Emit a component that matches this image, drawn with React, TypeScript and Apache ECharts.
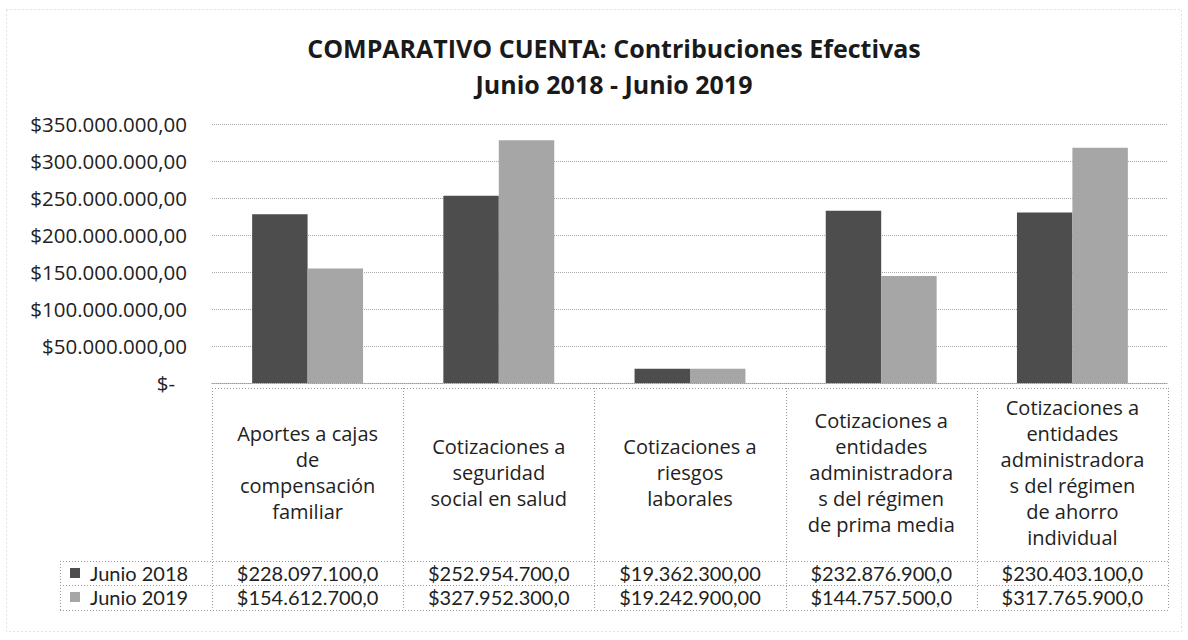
import React, { useEffect, useRef } from 'react';
import * as echarts from 'echarts';

const categories = [
  'Aportes a cajas\nde\ncompensación\nfamiliar',
  'Cotizaciones a\nseguridad\nsocial en salud',
  'Cotizaciones a\nriesgos\nlaborales',
  'Cotizaciones a\nentidades\nadministradora\ns del régimen\nde prima media',
  'Cotizaciones a\nentidades\nadministradora\ns del régimen\nde ahorro\nindividual',
];
const seriesNames = ['Junio 2018', 'Junio 2019'];
const junio2018 = [228097100, 252954700, 19362300, 232876900, 230403100];
const junio2019 = [154612700, 327952300, 19242900, 144757500, 317765900];
const yMax = 350000000;
const yInterval = 50000000;
const titleLines = ['COMPARATIVO CUENTA: Contribuciones Efectivas', 'Junio 2018 - Junio 2019'];

const FONT = "'Open Sans', 'Noto Sans', sans-serif";
const TABLE_FONT = "Lato, 'Open Sans', sans-serif";
const TEXT = '#222';

function groupThousands(n: number): string {
  return Math.floor(n).toString().replace(/\B(?=(\d{3})+(?!\d))/g, '.');
}
function fmtAxis(v: number): string {
  if (v === 0) return '{z|$-}';
  return '$' + groupThousands(v) + ',00';
}
function fmtCell(v: number): string {
  return '$' + groupThousands(v) + (v >= 1e8 ? ',0' : ',00');
}

// layout (pixels)
const GL = 212;
const GR = 1168;
const GT = 124;
const GB = 383;
const HEAD_TOP = 388;
const ROW1_TOP = 561;
const ROW2_TOP = 585;
const TABLE_BOTTOM = 610;
const LEG_LEFT = 60;

function buildGraphic() {
  const dot = { stroke: '#9a9a9a', lineWidth: 1, lineDash: [1, 2] };
  const els: any[] = [];
  const hl = (x1: number, x2: number, y: number) =>
    els.push({ type: 'line', silent: true, shape: { x1, y1: y + 0.5, x2, y2: y + 0.5 }, style: dot });
  const vl = (x: number, y1: number, y2: number) =>
    els.push({ type: 'line', silent: true, shape: { x1: x + 0.5, y1, x2: x + 0.5, y2 }, style: dot });
  hl(GL, GR, HEAD_TOP);
  hl(LEG_LEFT, GR, ROW1_TOP);
  hl(LEG_LEFT, GR, ROW2_TOP);
  hl(LEG_LEFT, GR, TABLE_BOTTOM);
  const n = categories.length;
  for (let i = 0; i <= n; i++) {
    const x = Math.round(GL + (i * (GR - GL)) / n);
    vl(x, HEAD_TOP, TABLE_BOTTOM);
  }
  vl(LEG_LEFT, ROW1_TOP, TABLE_BOTTOM);
  els.push({
    type: 'rect',
    silent: true,
    shape: { x: 6.5, y: 9.5, width: 1175, height: 622 },
    style: { fill: 'none', stroke: '#c8c8c8', lineWidth: 1, lineDash: [1, 3] },
  });
  return els;
}

export default function App() {
  const ref = useRef<HTMLDivElement>(null);
  useEffect(() => {
    if (!ref.current) return;
    const chart = echarts.init(ref.current, null, { renderer: 'svg' });
    const cellAxis = (values: number[], margin: number) => ({
      type: 'category',
      data: categories,
      position: 'bottom',
      gridIndex: 0,
      axisLine: { show: false },
      axisTick: { show: false },
      splitLine: { show: false },
      axisLabel: {
        interval: 0,
        margin,
        verticalAlign: 'middle',
        fontSize: 20,
        lineHeight: 24,
        color: TEXT,
        fontFamily: TABLE_FONT,
        formatter: (_v: string, i: number) => fmtCell(values[i]),
      },
    });
    chart.setOption({
      animation: false,
      backgroundColor: '#ffffff',
      textStyle: { fontFamily: FONT },
      title: {
        text: titleLines.join('\n'),
        left: 609,
        top: 25,
        textAlign: 'center',
        textStyle: { fontSize: 25, fontWeight: 'bold', lineHeight: 36, color: '#1a1a1a', fontFamily: FONT },
      },
      legend: {
        orient: 'vertical',
        left: 70,
        top: ROW1_TOP,
        padding: 0,
        itemGap: 0,
        itemWidth: 10,
        itemHeight: 10,
        icon: 'rect',
        data: seriesNames,
        textStyle: { fontSize: 20, lineHeight: 24, color: TEXT, fontFamily: TABLE_FONT, padding: [0, 0, 0, 5] },
      },
      grid: { left: GL, right: 1188 - GR, top: GT, bottom: 640 - GB, outerBoundsMode: 'none' },
      xAxis: [
        {
          type: 'category',
          data: categories,
          position: 'bottom',
          axisLine: { show: true, lineStyle: { color: '#9a9a9a', type: 'dotted' } },
          axisTick: { show: false },
          axisLabel: {
            interval: 0,
            margin: 89,
            verticalAlign: 'middle',
            align: 'center',
            lineHeight: 26,
            fontSize: 20,
            color: TEXT,
            fontFamily: FONT,
          },
        },
        cellAxis(junio2018, ROW1_TOP + 12 - GB),
        cellAxis(junio2019, ROW2_TOP + 12 - GB),
      ],
      yAxis: {
        type: 'value',
        min: 0,
        max: yMax,
        interval: yInterval,
        axisLine: { show: false },
        axisTick: { show: false },
        splitLine: { lineStyle: { color: '#a8a8a8', type: 'dotted' } },
        axisLabel: {
          margin: 25,
          fontSize: 20.5,
          color: TEXT,
          fontFamily: FONT,
          formatter: fmtAxis,
          rich: { z: { fontSize: 20.5, color: TEXT, fontFamily: FONT, padding: [0, 12, 0, 0] } },
        },
      },
      series: [
        {
          name: seriesNames[0],
          type: 'bar',
          data: junio2018,
          barGap: '0%',
          barCategoryGap: '42%',
          itemStyle: { color: '#4d4d4d' },
        },
        {
          name: seriesNames[1],
          type: 'bar',
          data: junio2019,
          barGap: '0%',
          barCategoryGap: '42%',
          itemStyle: { color: '#a6a6a6' },
        },
      ],
      graphic: buildGraphic(),
    });
    return () => chart.dispose();
  }, []);
  return (
    <div
      ref={ref}
      style={{ position: 'fixed', left: 0, top: 0, width: 1188, height: 640, background: '#fff' }}
    />
  );
}
